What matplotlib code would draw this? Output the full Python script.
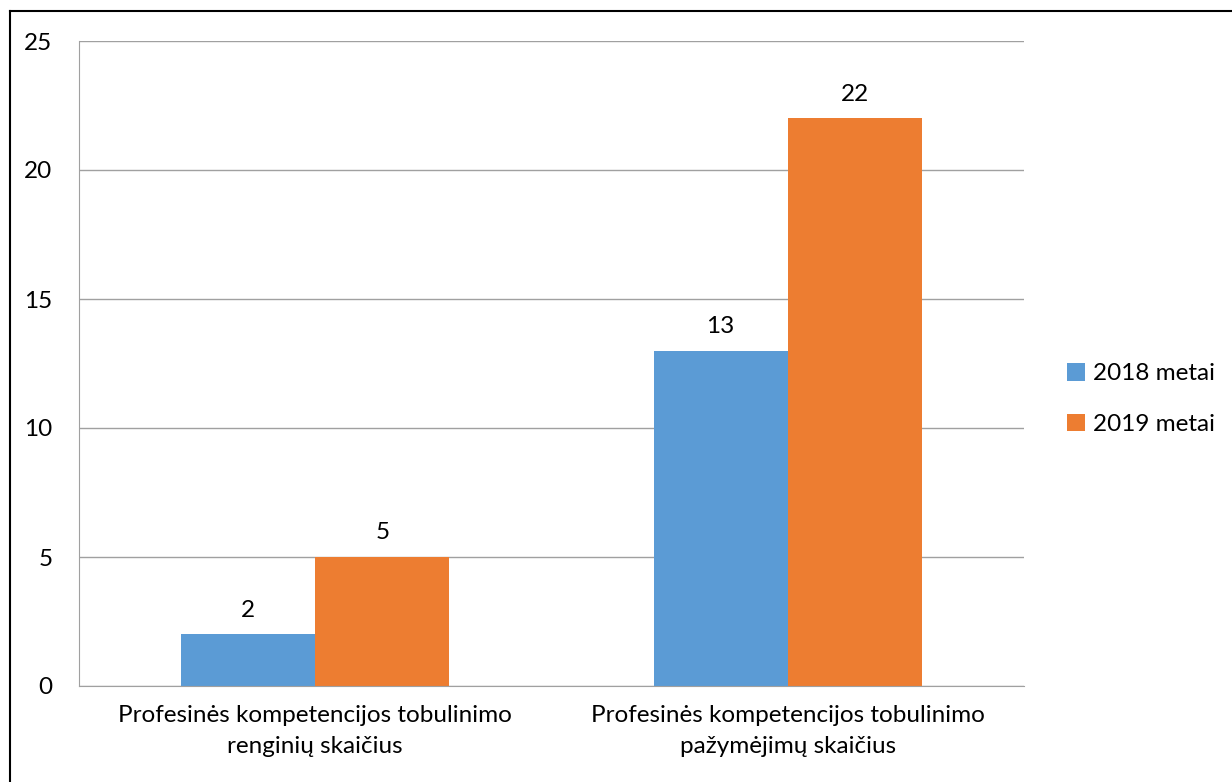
import matplotlib.pyplot as plt
import numpy as np
from matplotlib.lines import Line2D

categories = ['Profesinės kompetencijos tobulinimo\nrenginių skaičius',
              'Profesinės kompetencijos tobulinimo\npažymėjimų skaičius']
series_names = ['2018 metai', '2019 metai']
values_2018 = [2, 13]
values_2019 = [5, 22]
yticks = [0, 5, 10, 15, 20, 25]

plt.rcParams['font.family'] = ['Lato', 'DejaVu Sans']

blue = '#5b9bd5'
orange = '#ed7d31'
fs = 17.5

fig = plt.figure(figsize=(12.32, 7.82), dpi=100)
ax = fig.add_axes([79 / 1232, 1 - 686 / 782, (1024 - 79) / 1232, (686 - 41) / 782])

x = np.arange(len(categories))
w = 0.284
b1 = ax.bar(x - w / 2, values_2018, w, color=blue, label=series_names[0])
b2 = ax.bar(x + w / 2, values_2019, w, color=orange, label=series_names[1])
for bars in (b1, b2):
    ax.bar_label(bars, padding=10, fontsize=fs)

ax.set_xlim(-0.5, 1.5)
ax.set_ylim(0, 25)
ax.set_yticks(yticks)
ax.yaxis.grid(True, color='#a0a0a0', linewidth=1)
ax.set_axisbelow(True)
ax.set_xticks(x)
ax.set_xticklabels(categories, fontsize=fs, linespacing=1.55)
ax.tick_params(axis='x', length=0, pad=14)
ax.tick_params(axis='y', length=0, pad=19, labelsize=fs)
for s in ['top', 'right']:
    ax.spines[s].set_visible(False)
for s in ['left', 'bottom']:
    ax.spines[s].set_color('#a0a0a0')

ax.legend(loc='center left', bbox_to_anchor=(1055 / 1232, 1 - 399 / 782),
          bbox_transform=fig.transFigure, frameon=False,
          fontsize=fs, handlelength=0.75, handleheight=0.75, labelspacing=1.2,
          handletextpad=0.3, borderpad=0)

# outer border (only left and top visible in the crop)
fig.add_artist(Line2D([10 / 1232, 10 / 1232], [0, 1 - 11 / 782], color='black', lw=1.5))
fig.add_artist(Line2D([10 / 1232, 1], [1 - 11 / 782, 1 - 11 / 782], color='black', lw=1.5))

fig.savefig('out.png', dpi=100)
